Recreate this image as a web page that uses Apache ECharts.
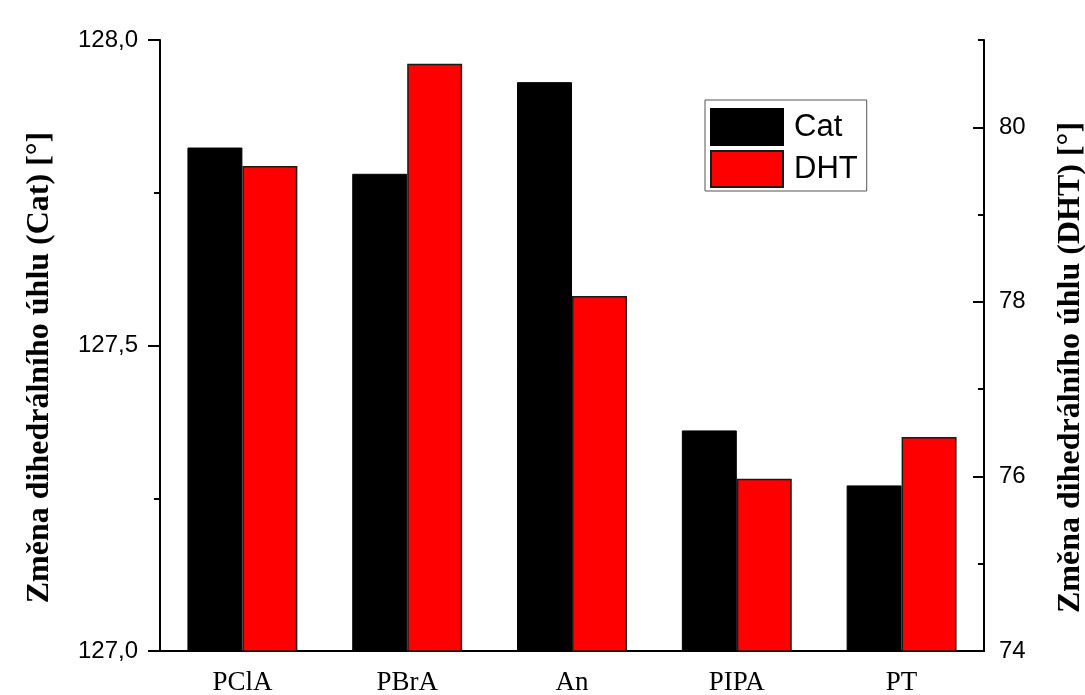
<!DOCTYPE html>
<html>
<head>
<meta charset="utf-8">
<script src="https://cdn.jsdelivr.net/npm/echarts@6/dist/echarts.min.js"></script>
<style>
html,body{margin:0;padding:0;background:#fff;}
#chart{width:1085px;height:695px;}
</style>
</head>
<body>
<div id="chart"></div>
<script>
const categories = ['PClA', 'PBrA', 'An', 'PIPA', 'PT'];
const catValues = [127.824, 127.781, 127.931, 127.361, 127.271];
const dhtValues = [79.556, 80.728, 78.067, 75.974, 76.452];
const seriesNames = ['Cat', 'DHT'];
const leftTitle = 'Změna dihedrálního úhlu (Cat) [°]';
const rightTitle = 'Změna dihedrálního úhlu (DHT) [°]';
const rightMajorTicks = [74, 76, 78, 80];
const rightMinorTicks = [75, 77, 79, 81];

const chart = echarts.init(document.getElementById('chart'));
const serifTitle = {fontFamily: 'Liberation Serif', fontWeight: 'bold', fontSize: 32, color: '#000', padding: [0, 44, 0, 0]};
const numLabel = {fontFamily: 'Liberation Sans', fontSize: 24, color: '#000'};

chart.setOption({
  animation: false,
  backgroundColor: '#fff',
  grid: {left: 160, right: 101, top: 40, bottom: 44, outerBoundsMode: 'none', containLabel: false},
  legend: {
    orient: 'vertical',
    left: 705, top: 100,
    itemWidth: 72, itemHeight: 36, itemGap: 4,
    padding: [8, 9, 3, 5],
    borderColor: '#555', borderWidth: 1,
    icon: 'rect',
    textStyle: {fontFamily: 'Liberation Sans', fontSize: 31, color: '#000', padding: [0, 0, 0, 6]},
    data: seriesNames
  },
  xAxis: {
    type: 'category',
    data: categories,
    axisLine: {lineStyle: {color: '#000', width: 2}},
    axisTick: {alignWithLabel: true, length: 11, lineStyle: {color: '#000', width: 2}},
    axisLabel: {fontFamily: 'Liberation Serif', fontSize: 27, color: '#000', margin: 18}
  },
  yAxis: [
    {
      type: 'value', position: 'left',
      min: 127, max: 128, interval: 0.5,
      name: leftTitle, nameLocation: 'middle', nameGap: 104,
      nameTextStyle: serifTitle,
      axisLine: {show: true, lineStyle: {color: '#000', width: 2}},
      axisTick: {show: true, length: 12, lineStyle: {color: '#000', width: 2}},
      minorTick: {show: true, splitNumber: 2, length: 6, lineStyle: {color: '#000', width: 2}},
      splitLine: {show: false},
      axisLabel: Object.assign({margin: 22, formatter: v => v.toFixed(1).replace('.', ',')}, numLabel)
    },
    {
      type: 'value', position: 'right',
      min: 74, max: 81,
      name: rightTitle, nameLocation: 'middle', nameGap: 71,
      nameTextStyle: serifTitle,
      axisLine: {show: true, lineStyle: {color: '#000', width: 2}},
      axisTick: {show: true, inside: true, length: 11, customValues: rightMajorTicks, lineStyle: {color: '#000', width: 2}},
      splitLine: {show: false},
      axisLabel: Object.assign({margin: 15, customValues: rightMajorTicks}, numLabel)
    },
    {
      type: 'value', position: 'right',
      min: 74, max: 81,
      axisLine: {show: false},
      axisTick: {show: true, inside: true, length: 6, customValues: rightMinorTicks, lineStyle: {color: '#000', width: 2}},
      splitLine: {show: false},
      axisLabel: {show: false}
    }
  ],
  series: [
    {
      name: seriesNames[0], type: 'bar', yAxisIndex: 0,
      data: catValues,
      barGap: '0%', barCategoryGap: '33.3%',
      itemStyle: {color: '#000', borderColor: '#000', borderWidth: 1}
    },
    {
      name: seriesNames[1], type: 'bar', yAxisIndex: 1,
      data: dhtValues,
      barGap: '0%', barCategoryGap: '33.3%',
      itemStyle: {color: '#ff0000', borderColor: '#1a1a1a', borderWidth: 1.5}
    }
  ]
});
</script>
</body>
</html>
